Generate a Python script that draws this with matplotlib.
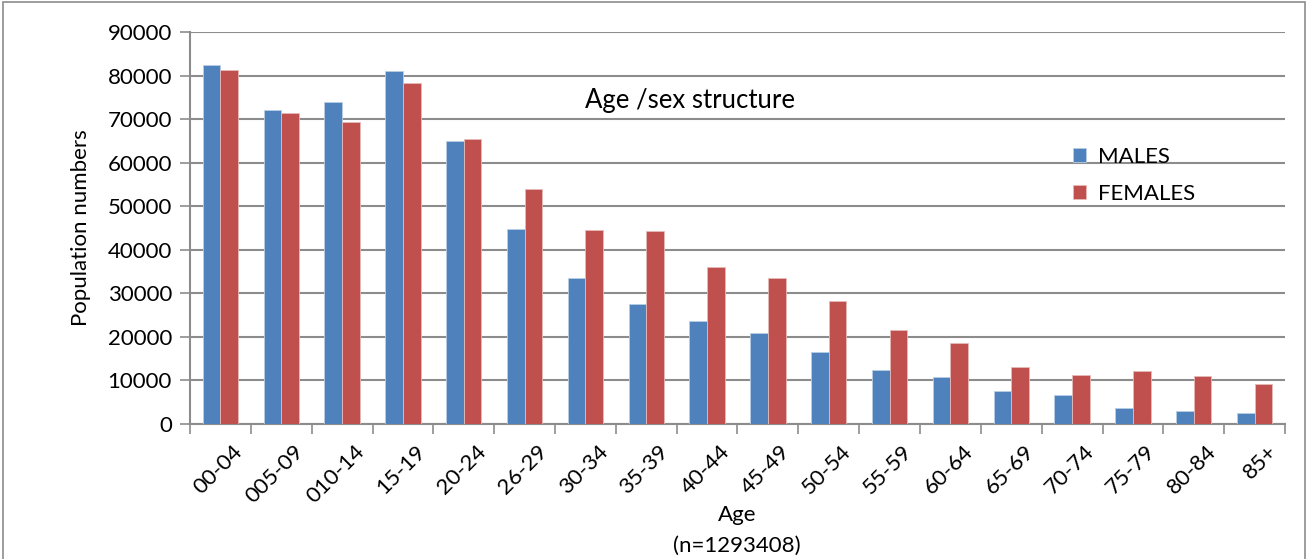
import matplotlib.pyplot as plt
from matplotlib.patches import Rectangle
import numpy as np

plt.rcParams['font.family'] = ['Lato', 'DejaVu Sans']

age_groups = ['00-04', '005-09', '010-14', '15-19', '20-24', '26-29', '30-34', '35-39',
              '40-44', '45-49', '50-54', '55-59', '60-64', '65-69', '70-74', '75-79',
              '80-84', '85+']
males = [82450, 72100, 74000, 81100, 65000, 44700, 33500, 27500,
         23700, 20900, 16450, 12500, 10850, 7600, 6700, 3700, 3000, 2450]
females = [81300, 71500, 69400, 78200, 65350, 54000, 44500, 44300,
           36000, 33500, 28200, 21500, 18600, 13200, 11300, 12100, 11000, 9200]

fig = plt.figure(figsize=(13.09, 5.59), dpi=100)
ax = fig.add_axes([190 / 1309, 1 - 424 / 559, 1095 / 1309, 392 / 559])

x = np.arange(len(age_groups))
w = 0.29
ax.bar(x - w / 2, males, w, color='#4F81BD', edgecolor='#b9cde5', linewidth=0.6,
       label='MALES', zorder=3)
ax.bar(x + w / 2, females, w, color='#C0504D', edgecolor='#e6b9b8', linewidth=0.6,
       label='FEMALES', zorder=3)

ax.set_xlim(-0.5, len(age_groups) - 0.5)
ax.set_ylim(0, 90000)
ax.set_yticks(range(0, 90001, 10000))
ax.tick_params(axis='y', labelsize=16, length=7, width=1.2, color='#8c8c8c', pad=6)
ax.yaxis.grid(True, color='#8c8c8c', linewidth=1.5, zorder=0)

# category ticks sit between the groups
ax.set_xticks(np.arange(-0.5, len(age_groups), 1.0))
ax.set_xticklabels([])
ax.tick_params(axis='x', length=7, width=1.2, color='#8c8c8c')
for i, lab in enumerate(age_groups):
    ax.text(i + 0.2, -4000, lab, rotation=45, ha='right', va='top',
            rotation_mode='anchor', fontsize=16)

for s in ['top', 'right']:
    ax.spines[s].set_visible(False)
for s in ['left', 'bottom']:
    ax.spines[s].set_color('#8c8c8c')
    ax.spines[s].set_linewidth(1.5)

ax.set_ylabel('Population numbers', fontsize=16, labelpad=12)
fig.text(737 / 1309, 1 - 515 / 559, 'Age', ha='center', va='center', fontsize=16)
fig.text(737 / 1309, 1 - 546 / 559, '(n=1293408)', ha='center', va='center', fontsize=16)

ax.text(690 / 1309, 1 - 100 / 559, 'Age /sex structure', transform=fig.transFigure,
        ha='center', va='center', fontsize=18.5)

ax.legend(loc='upper left', bbox_to_anchor=(1062 / 1309, 1 - 136 / 559),
          bbox_transform=fig.transFigure, frameon=False, fontsize=16,
          handlelength=0.6, handleheight=0.6, labelspacing=0.75, handletextpad=0.5,
          borderpad=0)

fig.patches.append(Rectangle((3 / 1309, -0.05), 1302 / 1309, 1.05 - 2 / 559,
                             transform=fig.transFigure, fill=False,
                             edgecolor='#8c8c8c', linewidth=1.2))

fig.savefig('out.png', dpi=100)
